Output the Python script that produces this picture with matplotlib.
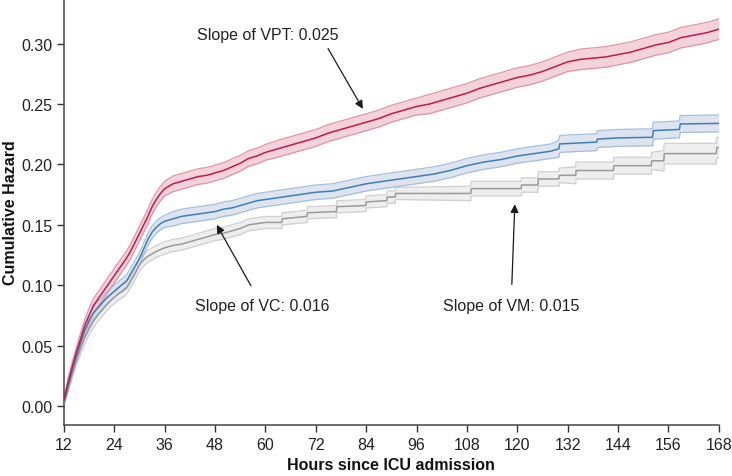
import numpy as np
import matplotlib.pyplot as plt

plt.rcParams['font.family'] = ['Liberation Sans', 'DejaVu Sans']

# VPT (red)
vpt_hours = [12, 13, 14, 15, 16, 17, 18, 19, 20, 21, 22, 23, 24, 25, 26, 27, 28, 29, 30, 31, 32, 33, 34, 35, 36,
             38, 40, 42, 44, 46, 48, 50, 52, 54, 56, 58, 60,
             63, 66, 69, 72, 75, 78, 81, 84, 87, 90, 93, 96, 99, 102, 105, 108, 111, 114, 117, 120,
             123, 126, 129, 132, 135, 138, 141, 144, 147, 150, 153, 156, 159, 162, 165, 168]
vpt_haz = [0.005, 0.020, 0.033, 0.045, 0.056, 0.067, 0.075, 0.083, 0.088, 0.093, 0.098, 0.103, 0.108,
           0.113, 0.118, 0.123, 0.129, 0.136, 0.143, 0.150, 0.157, 0.165, 0.171, 0.176, 0.180,
           0.184, 0.186, 0.188, 0.190, 0.191, 0.193, 0.195, 0.198, 0.201, 0.205, 0.207, 0.210,
           0.213, 0.216, 0.219, 0.222, 0.226, 0.229, 0.232, 0.235, 0.238, 0.242, 0.245, 0.248,
           0.250, 0.253, 0.256, 0.259, 0.263, 0.266, 0.269, 0.272, 0.274, 0.277, 0.281, 0.285,
           0.287, 0.288, 0.289, 0.291, 0.293, 0.296, 0.299, 0.301, 0.305, 0.307, 0.309, 0.312]
vpt_ci = [0.002, 0.003, 0.004, 0.004, 0.005, 0.005] + [0.006] * 19 + [0.0065] * 12 \
    + [0.007] * 12 + [0.008] * 12 + [0.0085] * 12

# VC (blue)
vc_hours = [12, 13, 14, 15, 16, 17, 18, 19, 20, 21, 22, 23, 24, 25, 26, 27, 28, 29, 30, 31, 32, 33, 34, 35, 36,
            38, 40, 42, 44, 46, 48, 50, 52, 54, 56, 58, 60,
            64, 68, 72, 76, 80, 84, 88, 92, 96, 100, 104, 108, 112, 116, 120, 124, 128,
            129.9, 130.1, 136, 138.9, 139.1, 144, 152.2, 152.4, 158.6, 158.8, 168]
vc_haz = [0.003, 0.017, 0.030, 0.042, 0.053, 0.063, 0.071, 0.077, 0.081, 0.085, 0.089, 0.092, 0.095,
          0.098, 0.101, 0.104, 0.110, 0.116, 0.122, 0.130, 0.138, 0.144, 0.148, 0.151, 0.153,
          0.155, 0.157, 0.158, 0.159, 0.160, 0.161, 0.163, 0.164, 0.166, 0.168, 0.170, 0.171,
          0.173, 0.175, 0.177, 0.178, 0.181, 0.184, 0.186, 0.188, 0.190, 0.192, 0.195, 0.199,
          0.202, 0.204, 0.207, 0.209, 0.211,
          0.213, 0.217, 0.218, 0.2185, 0.221, 0.222, 0.2225, 0.228, 0.229, 0.2335, 0.234]
vc_ci = [0.002, 0.003, 0.003, 0.004, 0.004] + [0.005] * 20 + [0.006] * 12 + [0.006] * 17 + [0.007] * 11

# VM (gray)
vm_hours = [12, 13, 14, 15, 16, 17, 18, 19, 20, 21, 22, 23, 24, 25, 26, 27, 28, 29, 30, 31, 32, 33, 34,
            36, 38, 40, 42, 44, 46, 48, 50, 52, 54, 56, 58, 60,
            63.9, 64, 69.9, 70, 76.9, 77, 83.9, 84, 88.9, 89, 90.9, 91, 108.9, 109, 120.9, 121,
            124.9, 125, 129.9, 130, 133.9, 134, 142.9, 143, 151.9, 152, 154.9, 155, 167.4, 167.5, 168]
vm_haz = [0.002, 0.015, 0.027, 0.038, 0.048, 0.057, 0.064, 0.070, 0.075, 0.079, 0.083, 0.087, 0.090,
          0.093, 0.095, 0.098, 0.104, 0.110, 0.117, 0.121, 0.124, 0.126, 0.128,
          0.131, 0.133, 0.134, 0.136, 0.138, 0.140, 0.142, 0.143, 0.145, 0.147, 0.150, 0.151, 0.152,
          0.152, 0.155, 0.157, 0.160, 0.161, 0.165, 0.166, 0.169, 0.170, 0.173, 0.173, 0.176,
          0.176, 0.180, 0.180, 0.183, 0.183, 0.188, 0.188, 0.191, 0.191, 0.195, 0.195, 0.199,
          0.199, 0.203, 0.203, 0.209, 0.209, 0.214, 0.214]
vm_ci = [0.002, 0.003, 0.004, 0.004] + [0.005] * 19 + [0.005] * 13 + [0.005] * 12 \
    + [0.006] * 8 + [0.007] * 6 + [0.0085] * 5

xticks = [12, 24, 36, 48, 60, 72, 84, 96, 108, 120, 132, 144, 156, 168]
yticks = [0.00, 0.05, 0.10, 0.15, 0.20, 0.25, 0.30]

series = [
    (vm_hours, vm_haz, vm_ci, '#9a9a9a', '#eeeeee', '#cfcfcf'),
    (vc_hours, vc_haz, vc_ci, '#3d7fb5', '#dde4f0', '#a4bedc'),
    (vpt_hours, vpt_haz, vpt_ci, '#c8174a', '#f3d3da', '#e493a6'),
]

fig = plt.figure(figsize=(7.32, 4.77), dpi=100)
ax = fig.add_axes([0.0874, 0.107, 0.8946, 0.893])

for hrs, haz, ci, lc, fc, ec in series:
    hrs = np.array(hrs)
    haz = np.array(haz)
    ci = np.array(ci)
    lo = haz - ci
    hi = haz + ci
    ax.fill_between(hrs, lo, hi, color=fc, lw=0, zorder=1)
    ax.plot(hrs, lo, color=ec, lw=0.9, zorder=2)
    ax.plot(hrs, hi, color=ec, lw=0.9, zorder=2)
    ax.plot(hrs, haz, color=lc, lw=1.1, zorder=3)

arrow = dict(arrowstyle='-|>', color='#1a1a1a', lw=0.9, mutation_scale=12, shrinkA=0, shrinkB=0)
ax.text(60.6, 0.308, 'Slope of VPT: 0.025', fontsize=11.5, color='#222222', ha='center', va='center')
ax.annotate('', xy=(83.2, 0.246), xytext=(74.9, 0.296), arrowprops=arrow)
ax.annotate('Slope of VC: 0.016', xy=(48.4, 0.150), xytext=(59.2, 0.083),
            arrowprops=dict(arrow, shrinkA=8), fontsize=11.5, color='#222222', ha='center', va='center')
ax.annotate('Slope of VM: 0.015', xy=(119.4, 0.167), xytext=(118.5, 0.083),
            arrowprops=dict(arrow, shrinkA=8), fontsize=11.5, color='#222222', ha='center', va='center')

ax.set_xlim(12, 168)
ax.set_ylim(-0.0157, 0.337)
ax.set_xticks(xticks)
ax.set_yticks(yticks)
ax.set_yticklabels([f'{v:.2f}' for v in yticks])
ax.tick_params(direction='out', length=5, width=1, colors='#333333', labelsize=11.5,
               labelcolor='#222222')
for s in ['top', 'right']:
    ax.spines[s].set_visible(False)
for s in ['left', 'bottom']:
    ax.spines[s].set_color('#444444')
    ax.spines[s].set_linewidth(1.1)

ax.set_xlabel('Hours since ICU admission', fontsize=11.5, fontweight='bold', color='#111111')
ax.set_ylabel('Cumulative Hazard', fontsize=11.5, fontweight='bold', color='#111111', labelpad=2)

fig.savefig('out.png', dpi=100)
